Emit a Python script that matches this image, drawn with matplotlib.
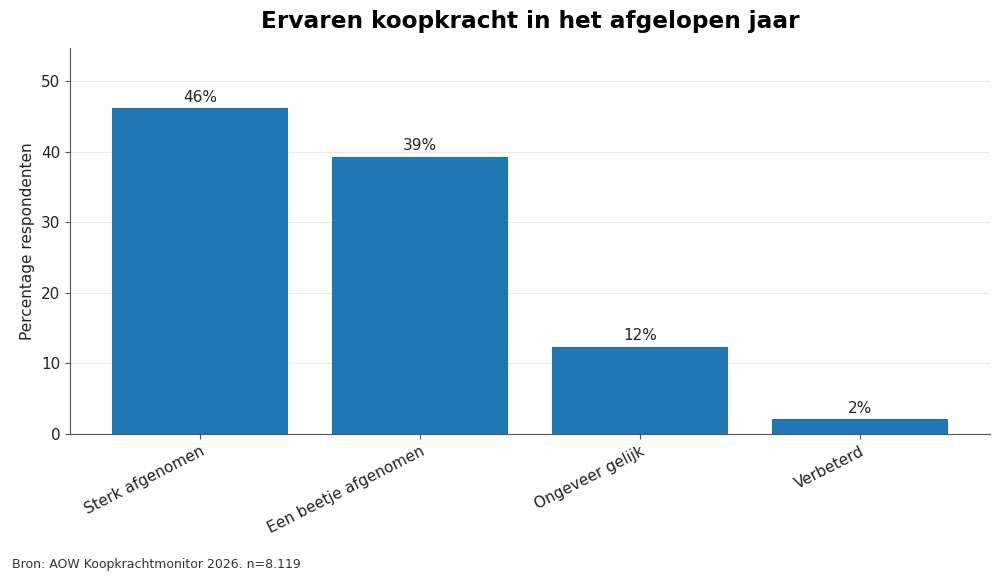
import matplotlib
matplotlib.use("Agg")
import matplotlib.pyplot as plt

categories = ["Sterk afgenomen", "Een beetje afgenomen", "Ongeveer gelijk", "Verbeterd"]
values = [46.2, 39.3, 12.4, 2.1]
labels = ["46%", "39%", "12%", "2%"]

fig = plt.figure(figsize=(10, 5.81), dpi=100)
ax = fig.add_axes([0.07, 0.253, 0.92, 0.664])

bars = ax.bar(range(len(categories)), values, width=0.8, color="#1f77b4", zorder=3)
for b, lab in zip(bars, labels):
    ax.text(b.get_x() + b.get_width() / 2, b.get_height() + 0.5, lab,
            ha="center", va="bottom", fontsize=11, color="#222222")

ax.set_xticks(range(len(categories)))
ax.set_xticklabels(categories, rotation=27, ha="right", rotation_mode="anchor", fontsize=11)
ax.tick_params(color="#555555", labelcolor="#222222", labelsize=11)
ax.set_ylim(0, 54.7)
ax.set_yticks([0, 10, 20, 30, 40, 50])
ax.set_ylabel("Percentage respondenten", fontsize=11, color="#222222")
ax.yaxis.grid(True, color="#dddddd", alpha=0.6, linewidth=0.8, zorder=0)
ax.set_axisbelow(True)
for s in ["top", "right"]:
    ax.spines[s].set_visible(False)
for s in ["left", "bottom"]:
    ax.spines[s].set_color("#555555")

fig.text(0.53, 0.983, "Ervaren koopkracht in het afgelopen jaar", fontsize=16.7,
         fontweight="bold", ha="center", va="top")
fig.text(0.012, 0.022, "Bron: AOW Koopkrachtmonitor 2026. n=8.119", fontsize=9, color="#333333")

fig.savefig("out.png", dpi=100)
